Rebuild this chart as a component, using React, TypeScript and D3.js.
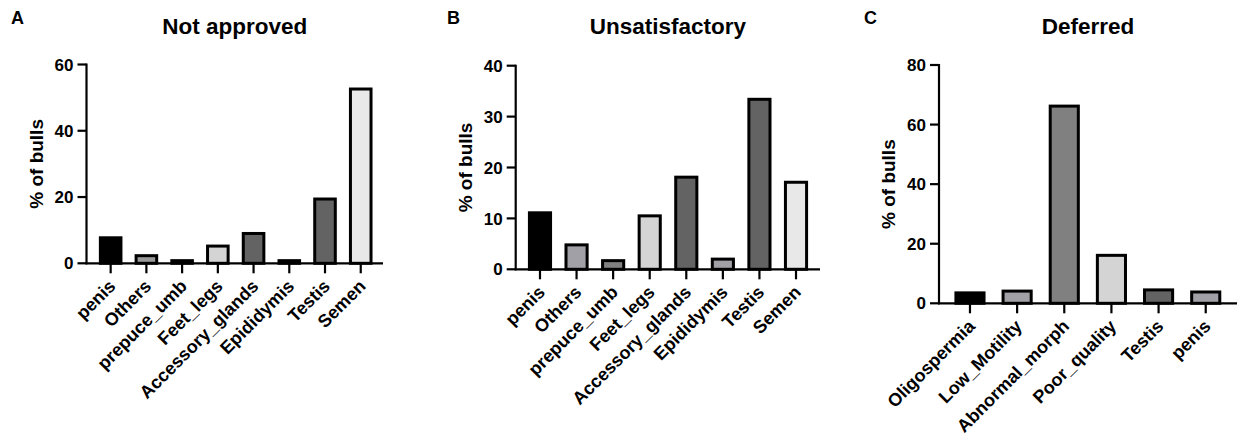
import React from "react";
import * as d3 from "d3";

const catsAB = ["penis", "Others", "prepuce_umb", "Feet_legs", "Accessory_glands", "Epididymis", "Testis", "Semen"];
const valuesA = [7.7, 2.3, 0.8, 5.2, 9.0, 0.8, 19.4, 52.6];
const valuesB = [11.1, 4.8, 1.7, 10.5, 18.1, 2.0, 33.4, 17.1];
const catsC = ["Oligospermia", "Low_Motility", "Abnormal_morph", "Poor_quality", "Testis", "penis"];
const valuesC = [3.5, 4.1, 66.2, 16.1, 4.5, 3.8];
const ticksA = [0, 20, 40, 60];
const ticksB = [0, 10, 20, 30, 40];
const ticksC = [0, 20, 40, 60, 80];
const colorsA = ["#000000", "#9a9a9a", "#7a7a7a", "#d4d4d4", "#636363", "#7a7a7a", "#636363", "#e8e8e8"];
const colorsB = ["#000000", "#a0a0a6", "#808080", "#d4d4d4", "#636363", "#a0a0a6", "#636363", "#e8e8e8"];
const colorsC = ["#000000", "#a0a0a6", "#808080", "#d4d4d4", "#636363", "#a0a0a6"];

const FONT = "'Liberation Sans', Arial, Helvetica, sans-serif";

type PanelProps = {
  letter: string;
  letterX: number;
  title: string;
  cats: string[];
  values: number[];
  colors: string[];
  ticks: number[];
  axisX: number;
  axisEnd: number;
  bandStart: number;
  bandEnd: number;
  yTop: number;
  y0: number;
};

function Panel(p: PanelProps) {
  const maxV = p.ticks[p.ticks.length - 1];
  const y = d3.scaleLinear().domain([0, maxV]).range([p.y0, p.yTop]);
  const x = d3.scaleBand<string>().domain(p.cats).range([p.bandStart, p.bandEnd]).paddingInner(0.34).paddingOuter(0.17);
  const sw = 3;
  const bw = x.bandwidth();
  return (
    <g>
      <text x={p.letterX} y={24} fontFamily={FONT} fontWeight="bold" fontSize={18} fill="#000">{p.letter}</text>
      <text x={(p.axisX + p.axisEnd) / 2} y={34} textAnchor="middle" fontFamily={FONT} fontWeight="bold" fontSize={22.5} fill="#000">{p.title}</text>
      <text transform={`translate(${p.axisX - 44},${(p.y0 + p.yTop) / 2}) rotate(-90)`} textAnchor="middle" fontFamily={FONT} fontWeight="bold" fontSize={19} fill="#000">% of bulls</text>
      {p.values.map((v, i) => {
        const cx = (x(p.cats[i]) as number) + bw / 2;
        const top = y(v);
        const h = Math.max(p.y0 - top, 0.01);
        return (
          <rect key={i} x={cx - bw / 2 + sw / 2} y={top} width={bw - sw} height={h}
            fill={p.colors[i]} stroke="#000" strokeWidth={sw} />
        );
      })}
      <line x1={p.axisX} x2={p.axisX} y1={p.yTop - 1} y2={p.y0 + 1} stroke="#000" strokeWidth={2.2} />
      <line x1={p.axisX - 1} x2={p.axisEnd} y1={p.y0} y2={p.y0} stroke="#000" strokeWidth={2.2} />
      {p.ticks.map((t) => (
        <g key={t}>
          <line x1={p.axisX - 9} x2={p.axisX} y1={y(t)} y2={y(t)} stroke="#000" strokeWidth={2.2} />
          <text x={p.axisX - 13} y={y(t)} dy="0.36em" textAnchor="end" fontFamily={FONT} fontWeight="bold" fontSize={17} fill="#000">{t}</text>
        </g>
      ))}
      {p.cats.map((c) => {
        const cx = (x(c) as number) + bw / 2;
        return (
          <g key={c}>
            <line x1={cx} x2={cx} y1={p.y0} y2={p.y0 + 10} stroke="#000" strokeWidth={2.2} />
            <text transform={`translate(${cx + 6},${p.y0 + 24}) rotate(-45)`} textAnchor="end" fontFamily={FONT} fontWeight="bold" fontSize={18} fill="#000">{c}</text>
          </g>
        );
      })}
    </g>
  );
}

export default function App() {
  return (
    <svg width={1242} height={441} style={{ position: "absolute", left: 0, top: 0, background: "#fff" }}>
      <rect width={1242} height={441} fill="#fff" />
      <Panel letter="A" letterX={11} title="Not approved" cats={catsAB} values={valuesA} colors={colorsA} ticks={ticksA}
        axisX={86.5} axisEnd={383} bandStart={92.8} bandEnd={378.6} yTop={64.5} y0={263.3} />
      <Panel letter="B" letterX={447} title="Unsatisfactory" cats={catsAB} values={valuesB} colors={colorsB} ticks={ticksB}
        axisX={515.7} axisEnd={820} bandStart={521.7} bandEnd={814.3} yTop={65.7} y0={269.3} />
      <Panel letter="C" letterX={864} title="Deferred" cats={catsC} values={valuesC} colors={colorsC} ticks={ticksC}
        axisX={939} axisEnd={1237} bandStart={946.4} bandEnd={1229.3} yTop={65} y0={303.3} />
    </svg>
  );
}
